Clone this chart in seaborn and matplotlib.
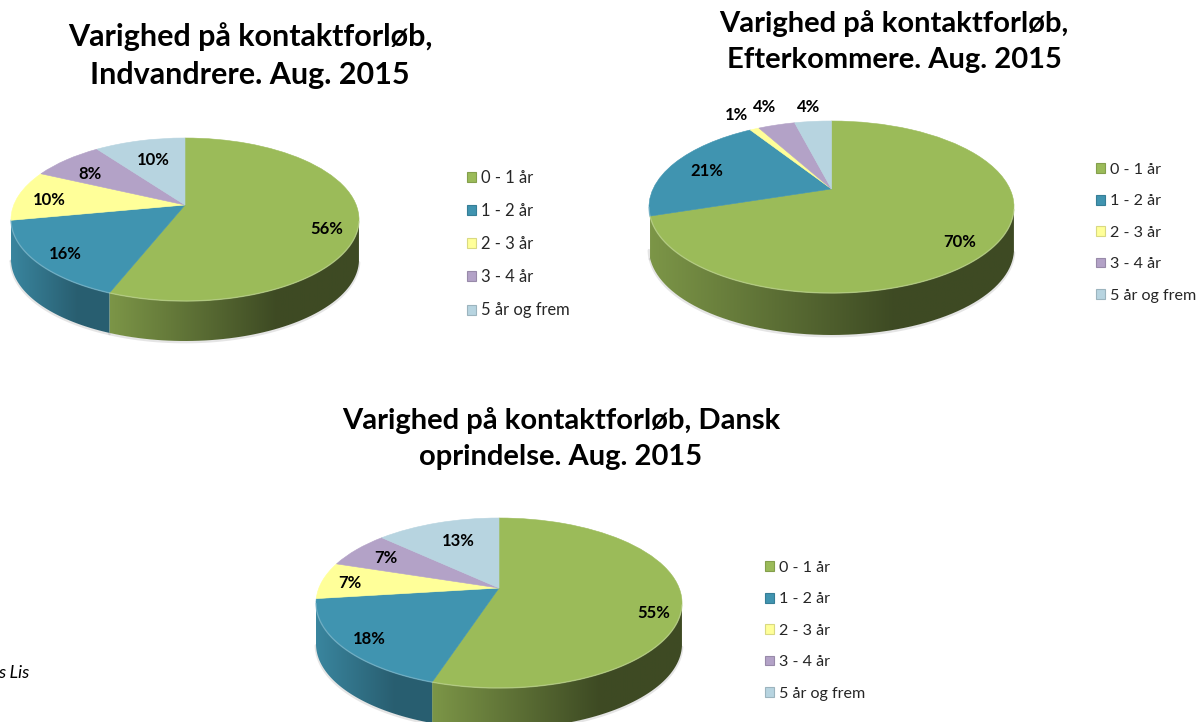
import numpy as np
import matplotlib
matplotlib.use('Agg')
import matplotlib.pyplot as plt
import seaborn as sns
from matplotlib.patches import PathPatch, Patch, Polygon
from matplotlib.path import Path

# DATA

categories = ['0 - 1 år', '1 - 2 år', '2 - 3 år', '3 - 4 år', '5 år og frem']
indvandrere = [56, 16, 10, 8, 10]
efterkommere = [70, 21, 1, 4, 4]
dansk = [55, 18, 7, 7, 13]

title_indvandrere = 'Varighed på kontaktforløb,\nIndvandrere. Aug. 2015'
title_efterkommere = 'Varighed på kontaktforløb,\nEfterkommere. Aug. 2015'
title_dansk = 'Varighed på kontaktforløb, Dansk\noprindelse. Aug. 2015'

W, H = 1198, 722

sns.set_theme(style='white')
plt.rcParams['font.family'] = ['Lato', 'DejaVu Sans']

palette = sns.color_palette(['#9BBB59', '#4094B0', '#FFFF99', '#B3A2C7', '#B7D4E0'])
wall_shades = {0: (0.80, 0.40), 1: (0.90, 0.64)}

fig = plt.figure(figsize=(W / 100, H / 100), dpi=100)


def project(xy, k):
    # unit circle -> tilted ellipse, the centre of the pie moves up by k
    xy = np.asarray(xy, dtype=float)
    x, y = xy[:, 0], xy[:, 1]
    den = 1 + k * y
    return np.column_stack([np.sqrt(1 - k ** 2) * x / den, (y + k) / den])


def draw_pie(values, cx, cy, rx, ry, k, depth, label_r, nudge):
    d = depth / ry
    top = cy - ry * 1.05
    bottom = cy + ry * (1.05 + d)
    ax = fig.add_axes([(cx - rx * 1.05) / W, 1 - bottom / H,
                       rx * 2.1 / W, (bottom - top) / H])
    wedges, _, autotexts = ax.pie(values, colors=palette, startangle=90, counterclock=False,
                                  autopct='%.0f%%', radius=1)
    ax.set_aspect('auto')

    for i, (wedge, txt) in enumerate(zip(wedges, autotexts)):
        wedge.set_visible(False)
        t = np.radians(np.linspace(wedge.theta1, wedge.theta2, 120))
        rim = project(np.column_stack([np.cos(t), np.sin(t)]), k)
        base = np.array(palette[i])

        # side wall with a horizontal gradient, only where the slice faces the viewer
        front = rim[:, 1] < 0
        if front.any() and rim[front, 1].min() < -0.15:
            edge = rim[front]
            lo, hi = wall_shades.get(i, (0.8, 0.5))
            cmap = sns.blend_palette([base * lo, base * (lo + hi) / 2, base * hi, base * hi], as_cmap=True)
            poly = Polygon(np.vstack([edge, (edge - [0, d])[::-1]]), closed=True, fc='none', ec='none')
            ax.add_patch(poly)
            im = ax.imshow(np.linspace(0, 1, 256)[None, :], cmap=cmap, aspect='auto', zorder=1,
                           extent=[edge[:, 0].min(), edge[:, 0].max(), -1 - d, 1])
            im.set_clip_path(poly)

        # top face
        path = wedge.get_path()
        ax.add_patch(PathPatch(Path(project(path.vertices, k), path.codes),
                               fc=palette[i], ec=palette[i], lw=0.4, zorder=2))

        # light edge and soft shadow along the front rim
        light = base + (1 - base) * 0.35
        ax.plot(rim[front, 0], rim[front, 1], color=light, lw=1, alpha=0.6, zorder=3)
        ax.plot(rim[front, 0], rim[front, 1] - d - 0.012, color='#808080', lw=2, alpha=0.2, zorder=0)

        # percentage label
        mid = np.radians((wedge.theta1 + wedge.theta2) / 2)
        pos = project([[label_r[i] * np.cos(mid), label_r[i] * np.sin(mid)]], k)[0]
        txt.set_position((pos[0] + nudge[i][0] / rx, pos[1] - nudge[i][1] / ry))
        txt.set(fontsize=12, fontweight='bold', color='black', zorder=5, ha='center', va='center')

    ax.set_xlim(-1.05, 1.05)
    ax.set_ylim(-1.05 - d, 1.05)
    ax.axis('off')
    return ax


def add_legend(ax, x, y, size, spacing):
    handles = [Patch(facecolor=c, edgecolor=np.array(c) * 0.85, lw=0.8) for c in palette]
    ax.legend(handles, categories, loc='upper left', bbox_to_anchor=(x / W, 1 - y / H),
              bbox_transform=fig.transFigure, frameon=False, fontsize=size,
              handlelength=0.55, handleheight=0.55, handletextpad=0.3,
              labelspacing=spacing, borderpad=0, borderaxespad=0, labelcolor='#262626')


ax1 = draw_pie(indvandrere, 185, 219.5, 174, 81.5, 0.178, 40, [0.8, 0.72, 0.8, 0.8, 0.8],
               [(4, 12), (-16, 10), (-2, 3), (2, 6), (6, 8)])
add_legend(ax1, 467, 170, 11.9, 1.035)

ax2 = draw_pie(efterkommere, 831.5, 207, 182.5, 86, 0.21, 42, [0.7, 0.75, 1.2, 1.2, 1.2],
               [(18, 16), (-5, 2), (-5, -4), (-3, -8), (-1, -4)])
add_legend(ax2, 1096, 163, 11.6, 1.08)

ax3 = draw_pie(dansk, 499, 603, 183, 85, 0.176, 41, [0.8, 0.75, 0.85, 0.85, 0.8],
               [(9, 14), (-16, 8), (1, 1), (9, 3), (10, 7)])
add_legend(ax3, 765, 561, 11.6, 1.08)

fig.text(250 / W, 1 - 56 / H, title_indvandrere, fontsize=22, fontweight='bold', ha='center',
         va='center', linespacing=1.44, color='black')
fig.text(894 / W, 1 - 41.5 / H, title_efterkommere, fontsize=21, fontweight='bold', ha='center',
         va='center', linespacing=1.5, color='black')
fig.text(561 / W, 1 - 438.5 / H, title_dansk, fontsize=21, fontweight='bold', ha='center',
         va='center', linespacing=1.5, color='black')

fig.text(-2 / W, 1 - 673 / H, 's Lis', fontsize=13, style='italic', va='center', color='black')

plt.savefig('out.png', dpi=100)
plt.close()
